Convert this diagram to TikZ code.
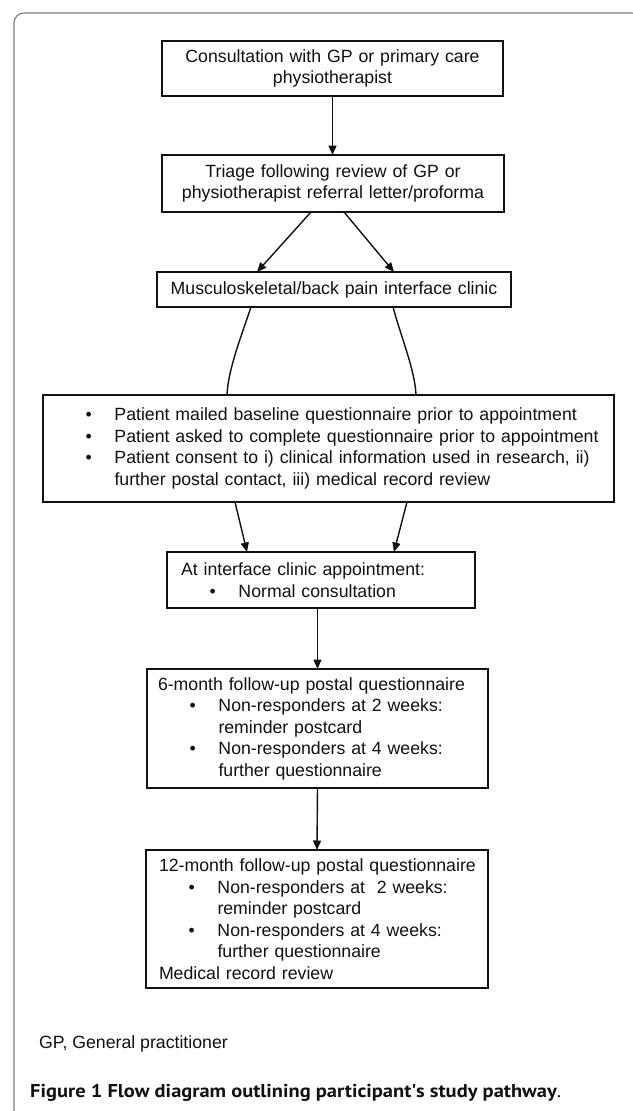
\documentclass[tikz,border=0pt]{standalone}
\usepackage{fontspec}
\setmainfont{Liberation Sans}
\newfontfamily\capfont[FakeStretch=1.1]{PT Sans}
\usetikzlibrary{arrows.meta,calc}
\definecolor{ink}      {HTML}{111111}
\definecolor{framegray}{HTML}{7C7C7C}

% bullet line and its continuation
\newcommand{\bul}{\hspace*{42.5pt}\textbullet\hspace{22.8pt}}
\newcommand{\cont}{\hspace*{71.5pt}}

\begin{document}
\begin{tikzpicture}[x=1pt,y=-1pt,
  box/.style={draw=ink, line width=1.5pt, inner xsep=0pt, inner ysep=0pt, outer sep=0pt,
              anchor=north west, text=ink, font=\fontsize{17.7}{21.5}\selectfont},
  flow/.style={draw=ink, line width=1.4pt, -{Triangle[length=9.5pt,width=8pt]}},
  link/.style={draw=ink, line width=1.4pt},
  note/.style={anchor=base west, inner sep=0pt, text=ink}]
  \useasboundingbox (0,0) rectangle (632,1111);
  \fill[white] (0,0) rectangle (632,1111);
  % panel frame
  \draw[framegray, line width=1.1pt, rounded corners=10pt] (14,1140) -- (14,13) -- (642,13) -- (642,1140);

  \node[box, text width=341pt, minimum height=55pt, align=center] (consult) at (162,41)
    {Consultation with GP or primary care\\physiotherapist};
  \node[box, text width=342pt, minimum height=57pt, align=center] (triage) at (162,155)
    {Triage following review of GP or\\physiotherapist referral letter/proforma};
  \node[box, text width=354pt, minimum height=35pt, align=center] (clinic) at (157,272)
    {Musculoskeletal/back pain interface clinic};
  \node[box, text width=571pt, minimum height=107pt, align=left] (consent) at (43,395)
    {\bul Patient mailed baseline questionnaire prior to appointment\\
     \bul Patient asked to complete questionnaire prior to appointment\\
     \bul Patient consent to i) clinical information used in research, ii)\\
     \cont further postal contact, iii) medical record review};
  \node[box, text width=308pt, minimum height=56pt, align=left] (visit) at (167,552)
    {\hspace*{14pt}At interface clinic appointment:\\
     \bul Normal consultation};
  \node[box, text width=341pt, minimum height=119pt, align=left] (sixmonth) at (147,669)
    {\hspace*{11pt}6-month follow-up postal questionnaire\\
     \bul Non-responders at 2 weeks:\\
     \cont reminder postcard\\
     \bul Non-responders at 4 weeks:\\
     \cont further questionnaire};
  \node[box, text width=342pt, minimum height=138pt, align=left] (twelvemonth) at (146,850)
    {\hspace*{13pt}12-month follow-up postal questionnaire\\
     \bul Non-responders at\ \ 2 weeks:\\
     \cont reminder postcard\\
     \bul Non-responders at 4 weeks:\\
     \cont further questionnaire\\
     \hspace*{13pt}Medical record review};

  % arrows
  \draw[flow] (consult.south) -- (consult.south |- triage.north);
  \draw[flow] ([xshift=-22pt]triage.south) -- ([xshift=-77pt]clinic.north);
  \draw[flow] ([xshift=11pt]triage.south) -- ([xshift=60pt]clinic.north);
  \draw[link] ([xshift=-83pt]clinic.south) .. controls +(-10,30) and +(1,-25) .. ([xshift=-101.5pt]consent.north);
  \draw[link] ([xshift=59pt]clinic.south) .. controls +(8,30) and +(-1,-25) .. ([xshift=87.5pt]consent.north);
  \draw[flow] ([xshift=-93.5pt]consent.south) -- ([xshift=-74pt]visit.north);
  \draw[flow] ([xshift=78.5pt]consent.south) -- ([xshift=73pt]visit.north);
  \draw[flow] (sixmonth.north |- visit.south) -- (sixmonth.north);
  \draw[flow] (sixmonth.south) -- (twelvemonth.north);

  \node[note, font=\fontsize{17.7}{21.5}\selectfont] (gp) at (39,1048) {GP, General practitioner};
  \node[note, font=\capfont\fontsize{18.6}{20}\selectfont] (caption) at (30,1097)
    {\textbf{Figure 1 Flow diagram outlining participant\textquotesingle s study pathway}.};
\end{tikzpicture}
\end{document}
